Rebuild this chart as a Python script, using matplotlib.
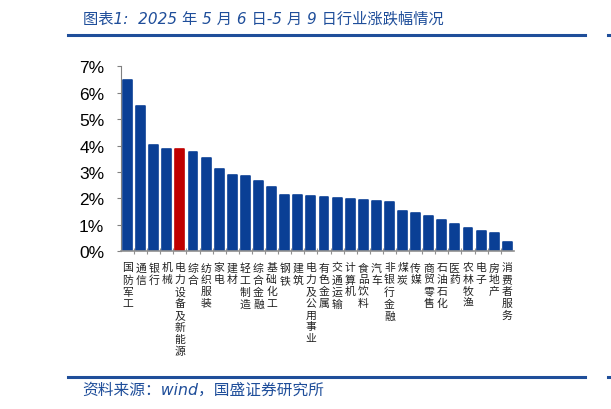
import matplotlib
matplotlib.use("Agg")
import matplotlib.pyplot as plt
from matplotlib.lines import Line2D

plt.rcParams['font.family'] = ['Liberation Sans', 'Noto Sans CJK SC', 'DejaVu Sans']

industries = ['国防军工', '通信', '银行', '机械', '电力设备及新能源', '综合', '纺织服装',
              '家电', '建材', '轻工制造', '综合金融', '基础化工', '钢铁', '建筑',
              '电力及公用事业', '有色金属', '交通运输', '计算机', '食品饮料', '汽车',
              '非银行金融', '煤炭', '传媒', '商贸零售', '石油石化', '医药', '农林牧渔',
              '电子', '房地产', '消费者服务']
changes = [6.49, 5.49, 4.03, 3.87, 3.86, 3.75, 3.53, 3.11, 2.89, 2.84, 2.67, 2.43,
           2.14, 2.12, 2.09, 2.05, 2.00, 1.98, 1.93, 1.90, 1.87, 1.52, 1.45, 1.35,
           1.17, 1.02, 0.89, 0.77, 0.70, 0.34]
highlight = '电力设备及新能源'
yticks = [0, 1, 2, 3, 4, 5, 6, 7]

blue = '#0A3F95'
red = '#C00000'
title_blue = '#1F4E9A'

fig = plt.figure(figsize=(6.11, 4.10), dpi=100)
ax = fig.add_axes([0.198, 0.3846, 0.643, 0.4514])

colors = [red if n == highlight else blue for n in industries]
x = list(range(len(industries)))
ax.bar(x, changes, width=0.68, color=colors, edgecolor=colors, linewidth=1.2,
       joinstyle='round', zorder=2)

ax.set_xlim(-0.5, len(industries) - 0.5)
ax.set_ylim(0, 7)
ax.set_yticks(yticks)
ax.set_yticklabels([f'{v}%' for v in yticks], fontsize=12.5)
ax.tick_params(axis='y', length=3, color='#808080', pad=9)

ax.set_xticks([i - 0.5 for i in range(1, len(industries))], minor=False)
ax.set_xticklabels([])
ax.tick_params(axis='x', length=4, color='#909090', direction='inout')

for s in ['top', 'right']:
    ax.spines[s].set_visible(False)
ax.spines['left'].set_color('#808080')
ax.spines['bottom'].set_color('#909090')
ax.spines['bottom'].set_linewidth(1.2)

# vertical category labels
for i, name in enumerate(industries):
    ax.text(i, -0.42, '\n'.join(name), ha='center', va='top', fontsize=7.8,
            family=['Noto Sans CJK SC'], linespacing=1.22, color='#222222')

# title and frame lines
fig.text(0.136, 0.955, '图表1:  2025 年 5 月 6 日-5 月 9 日行业涨跌幅情况', fontsize=11,
         style='italic', color=title_blue, va='center',
         family=['DejaVu Sans', 'Noto Sans CJK SC'])
fig.add_artist(Line2D([0.111, 0.957], [0.913, 0.913], color='#1F4E9A', lw=2.2))
fig.add_artist(Line2D([0.995, 1.0], [0.913, 0.913], color='#1F4E9A', lw=2.2))
fig.add_artist(Line2D([0.111, 0.957], [0.079, 0.079], color='#1F4E9A', lw=2.2))
fig.add_artist(Line2D([0.995, 1.0], [0.079, 0.079], color='#1F4E9A', lw=2.2))
fig.text(0.134, 0.047, '资料来源：wind，国盛证券研究所', fontsize=11.3, style='italic',
         color=title_blue, va='center', family=['DejaVu Sans', 'Noto Sans CJK SC'])

fig.savefig('out.png', dpi=100)
